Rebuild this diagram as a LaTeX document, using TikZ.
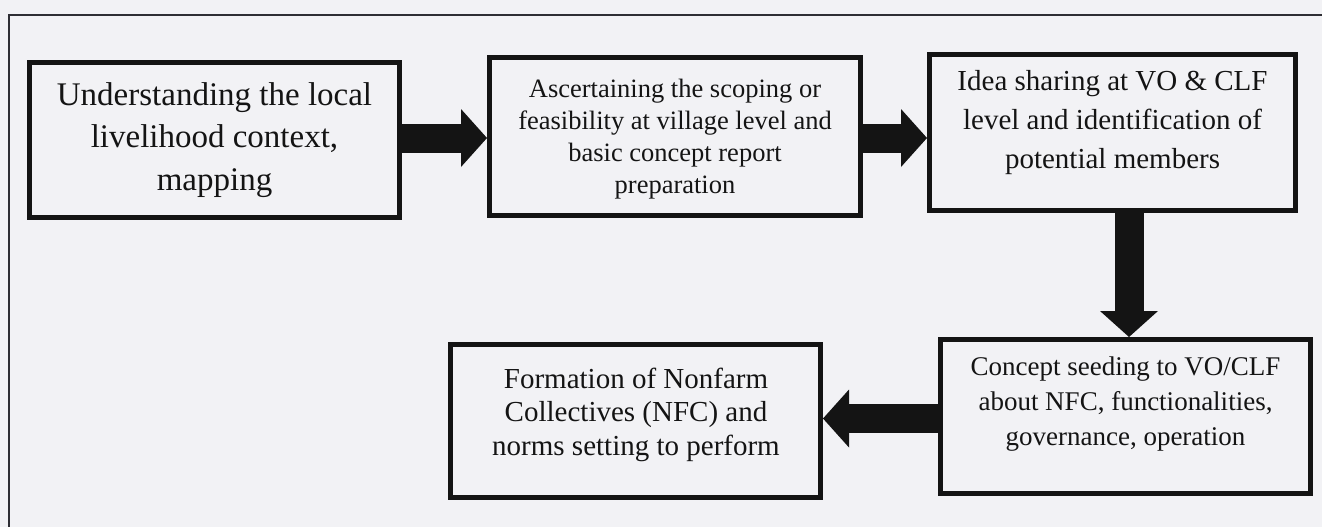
\documentclass[tikz,border=0pt]{standalone}
\usepackage{fontspec}
\setmainfont{Liberation Serif}
\usetikzlibrary{arrows.meta}
\definecolor{bg}{HTML}{F2F2F5}
\definecolor{ink}{HTML}{141414}
\definecolor{framec}{HTML}{2E2E34}
\begin{document}
\begin{tikzpicture}[x=1pt,y=-1pt,
  stepbox/.style={draw=ink, line width=5pt, fill=bg, inner sep=0pt},
  txt/.style={text=ink, align=center, inner sep=0pt},
  flow/.style={draw=ink, line width=29pt, -{Triangle[length=26pt,width=58pt,line width=0pt]}},
  framestyle/.style={draw=framec, line width=2pt}
]
\fill[bg] (0,0) rectangle (1322,527);
\useasboundingbox (0,0) rectangle (1322,527);
\draw[framestyle] (9,530) -- (9,15) -- (1325,15);

% boxes
\node[stepbox, minimum width=370pt, minimum height=155pt] (b1) at (214.5,140) {};
\node[stepbox, minimum width=371pt, minimum height=158pt] (b2) at (675,136.5) {};
\node[stepbox, minimum width=366pt, minimum height=156pt] (b3) at (1112.5,132.5) {};
\node[stepbox, minimum width=370pt, minimum height=154pt] (b4) at (1125.5,416.5) {};
\node[stepbox, minimum width=370pt, minimum height=153pt] (b5) at (635.5,421) {};

% texts
\node[txt, font=\fontsize{33}{42.5}\selectfont] (t1) at (214.5,139.7)
  {Understanding the local\\livelihood context,\\mapping};
\node[txt, font=\fontsize{26.5}{32}\selectfont] (t2) at (675,138.8)
  {Ascertaining the scoping or\\feasibility at village level and\\basic concept report\\preparation};
\node[txt, font=\fontsize{29}{39}\selectfont] (t3) at (1112.5,122.2)
  {Idea sharing at VO \& CLF\\level and identification of\\potential members};
\node[txt, font=\fontsize{27}{35}\selectfont] (t4) at (1125.5,403.7)
  {Concept seeding to VO/CLF\\about NFC, functionalities,\\governance, operation};
\node[txt, font=\fontsize{29}{33.5}\selectfont] (t5) at (636,414.7)
  {Formation of Nonfarm\\Collectives (NFC) and\\norms setting to perform};

% arrows
\draw[flow] (b1.east |- 0,138) -- (b2.west |- 0,138);
\draw[flow] (b2.east |- 0,138) -- (b3.west |- 0,138);
\draw[flow] (b3.south -| 1129,0) -- (b4.north -| 1129,0);
\draw[flow] (b4.west |- 0,418.5) -- (b5.east |- 0,418.5);
\end{tikzpicture}
\end{document}
